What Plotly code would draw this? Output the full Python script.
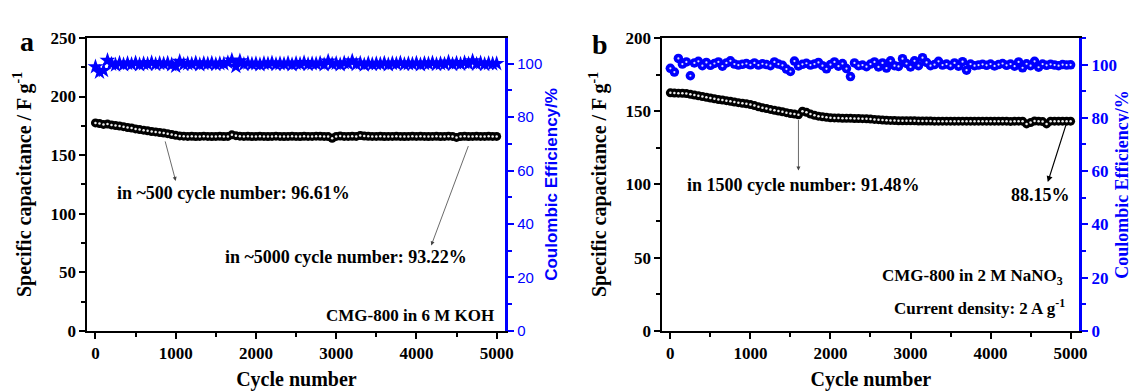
import plotly.graph_objects as go

# ---------------- data ----------------
cycles = list(range(0, 5001, 50))

cap_a = [177.5, 177.0, 176.2, 176.5, 175.8, 175.2, 174.9, 174.3, 173.6, 173.2,
         172.4, 171.8, 171.3, 170.8, 170.2, 169.8, 169.3, 168.9, 168.3, 167.6,
         166.9, 166.4, 166.2, 166.0, 166.1, 165.9, 166.0, 166.2, 166.0, 165.9,
         166.0, 166.1, 165.9, 166.0, 167.3, 166.6, 166.2, 166.0, 166.1, 165.9,
         166.0, 166.1, 166.0, 165.9, 166.0, 166.2, 166.0, 165.8, 166.0, 166.1,
         166.0, 165.9, 166.1, 166.0, 166.0, 166.2, 166.1, 166.0, 165.8, 164.4,
         166.0, 166.3, 166.0, 166.0, 166.1, 166.0, 166.8, 166.3, 166.1, 166.0,
         166.0, 166.1, 165.9, 166.0, 166.0, 166.1, 166.0, 165.9, 166.0, 166.1,
         166.0, 166.1, 166.0, 165.9, 166.0, 166.1, 165.9, 166.0, 166.2, 166.0,
         165.1, 165.9, 166.1, 165.9, 166.0, 166.1, 166.0, 166.0, 166.1, 166.0,
         166.0]

eff_a = [98.8, 96.8, 97.4, 101.2, 99.8, 99.5, 100.2, 99.6, 100.1, 99.7,
         100.3, 99.6, 100.0, 99.8, 100.4, 99.7, 100.1, 99.9, 100.2, 99.6,
         99.0, 100.8, 99.7, 100.0, 99.8, 100.3, 99.6, 100.1, 99.9, 100.2,
         99.7, 100.0, 99.9, 100.4, 101.3, 98.9, 101.0, 99.7, 100.2, 99.8,
         100.0, 99.6, 100.1, 99.9, 100.3, 99.7, 100.0, 99.8, 100.2, 99.6,
         100.1, 99.8, 100.4, 99.7, 100.0, 99.9, 100.2, 99.6, 100.9, 99.8,
         100.1, 99.6, 100.3, 99.9, 101.0, 99.7, 100.2, 99.5, 100.1, 99.7,
         100.0, 99.8, 100.2, 99.6, 100.1, 99.9, 100.3, 99.7, 100.0, 99.8,
         100.2, 99.6, 100.1, 99.9, 100.3, 99.7, 100.0, 99.8, 100.6, 99.7,
         100.2, 99.8, 100.4, 99.9, 101.0, 99.8, 100.3, 99.7, 100.1, 99.9,
         100.0]

cap_b = [162.5, 162.4, 162.3, 162.2, 162.0, 161.5, 161.0, 160.5, 160.0, 159.5,
         159.0, 158.5, 158.0, 157.6, 157.2, 156.8, 156.3, 155.8, 155.4, 155.0,
         154.5, 153.8, 153.0, 152.3, 151.8, 151.2, 150.6, 150.1, 149.6, 149.0,
         148.4, 148.0, 147.6, 150.0, 149.2, 148.0, 147.2, 146.6, 146.2, 145.8,
         145.5, 145.4, 145.3, 145.2, 145.2, 145.1, 145.0, 145.0, 144.9, 144.8,
         144.6, 144.4, 144.2, 144.0, 143.8, 143.7, 143.6, 143.5, 143.5, 143.4,
         143.4, 143.4, 143.3, 143.3, 143.3, 143.3, 143.2, 143.2, 143.2, 143.2,
         143.2, 143.2, 143.2, 143.2, 143.2, 143.2, 143.2, 143.2, 143.2, 143.2,
         143.2, 143.2, 143.2, 143.2, 143.2, 143.0, 143.2, 143.2, 143.2, 141.3,
         142.2, 143.3, 143.2, 142.9, 141.3, 143.2, 143.2, 143.2, 143.2, 143.2,
         143.2]

eff_b = [98.6, 97.2, 102.3, 100.2, 101.0, 95.8, 100.6, 101.2, 99.6, 100.8,
         99.7, 100.4, 101.0, 99.4, 100.6, 101.4, 100.2, 99.8, 100.1, 100.4,
         99.9, 100.6, 99.8, 100.3, 100.0, 99.6, 101.0, 100.2, 99.7, 98.3,
         97.4, 101.3, 99.5, 100.1, 100.5, 99.8, 100.2, 100.8, 99.6, 98.4,
         100.0, 101.0, 99.4, 100.4, 98.5, 95.5, 100.6, 99.6, 99.8, 99.2,
         100.2, 101.0, 99.1, 100.6, 98.7, 101.4, 99.6, 99.3, 102.2, 100.4,
         99.1, 101.4, 99.6, 102.6, 100.8, 99.6, 100.0, 101.2, 99.8, 100.2,
         99.6, 100.6, 99.4, 101.1, 97.9, 100.2, 99.6, 99.8, 100.1, 99.7,
         100.2, 99.5, 100.0, 100.4, 99.7, 100.2, 99.4, 101.0, 98.8, 100.3,
         99.6, 101.2, 99.0, 100.2, 99.7, 100.1, 99.8, 99.6, 100.0, 99.8,
         99.9]

x_ticks = [0, 1000, 2000, 3000, 4000, 5000]
cap_a_ticks = [0, 50, 100, 150, 200, 250]
cap_b_ticks = [0, 50, 100, 150, 200]
eff_ticks = [0, 20, 40, 60, 80, 100]

# ---------------- style ----------------
SERIF = "Liberation Serif, Times New Roman, serif"
SANS = "Liberation Sans, Arial, sans-serif"
BLUE = "#0000ff"
W, H = 1137, 391

fig = go.Figure()

# panel a
fig.add_trace(go.Scatter(x=cycles, y=cap_a, mode="markers", xaxis="x", yaxis="y",
                         marker=dict(symbol="circle", size=9, color="black"),
                         showlegend=False, hoverinfo="skip"))
fig.add_trace(go.Scatter(x=cycles, y=cap_a, mode="markers", xaxis="x", yaxis="y",
                         marker=dict(symbol="circle", size=2.5, color="#eeeeee"),
                         showlegend=False, hoverinfo="skip"))
fig.add_trace(go.Scatter(x=cycles, y=eff_a, mode="markers", xaxis="x", yaxis="y2",
                         marker=dict(symbol="star", size=12, color=BLUE,
                                     line=dict(width=0)),
                         showlegend=False, hoverinfo="skip"))

# panel b
fig.add_trace(go.Scatter(x=cycles, y=cap_b, mode="markers", xaxis="x2", yaxis="y3",
                         marker=dict(symbol="circle", size=9, color="black"),
                         showlegend=False, hoverinfo="skip"))
fig.add_trace(go.Scatter(x=cycles, y=cap_b, mode="markers", xaxis="x2", yaxis="y3",
                         marker=dict(symbol="circle", size=2.5, color="#eeeeee"),
                         showlegend=False, hoverinfo="skip"))
fig.add_trace(go.Scatter(x=cycles, y=eff_b, mode="markers", xaxis="x2", yaxis="y4",
                         marker=dict(symbol="circle", size=9.5, color=BLUE),
                         showlegend=False, hoverinfo="skip"))
fig.add_trace(go.Scatter(x=cycles, y=eff_b, mode="markers", xaxis="x2", yaxis="y4",
                         marker=dict(symbol="circle", size=2.2, color="#e0e0ff"),
                         showlegend=False, hoverinfo="skip"))

ydom = [1 - 330 / H, 1 - 22 / H]
xdom_a = [80 / W, 501 / W]
xdom_b = [659 / W, 1079 / W]

tickfont_serif = dict(family=SERIF, size=17, color="black")
title_serif = dict(family=SERIF, size=20, color="black")

def bold(vals):
    return ["<b>%d</b>" % v for v in vals]

def xaxis(dom, anchor):
    return dict(domain=dom, anchor=anchor, range=[-100, 5110], tickvals=x_ticks, ticktext=bold(x_ticks),
                ticks="outside", ticklen=6, tickwidth=2, tickcolor="black",
                minor=dict(dtick=500, tick0=0, ticks="outside", ticklen=4, tickwidth=2, tickcolor="black"),
                showline=True, linewidth=2, linecolor="black", mirror=True,
                showgrid=False, zeroline=False,
                tickfont=tickfont_serif,
                title=dict(text="<b>Cycle number</b>", font=title_serif, standoff=10))

fig.update_layout(
    width=W, height=H,
    margin=dict(l=0, r=0, t=0, b=0),
    paper_bgcolor="white", plot_bgcolor="white",
    xaxis=xaxis(xdom_a, "y"),
    xaxis2=xaxis(xdom_b, "y3"),
    yaxis=dict(domain=ydom, anchor="x", range=[0, 250], tickvals=cap_a_ticks, ticktext=bold(cap_a_ticks),
               ticks="outside", ticklen=6, tickwidth=2, tickcolor="black",
               minor=dict(dtick=25, tick0=0, ticks="outside", ticklen=4, tickwidth=2, tickcolor="black"),
               showline=True, linewidth=2, linecolor="black", showgrid=False, zeroline=False,
               tickfont=tickfont_serif,
               title=dict(text="<b>Specific capacitance / F g<sup>-1</sup></b>", font=title_serif, standoff=14)),
    yaxis2=dict(overlaying="y", side="right", anchor="x", range=[0, 109.6],
                tickvals=eff_ticks,
                ticks="outside", ticklen=6, tickwidth=2, tickcolor=BLUE,
                minor=dict(dtick=10, tick0=0, ticks="outside", ticklen=4, tickwidth=2, tickcolor=BLUE),
                showline=True, linewidth=2.5, linecolor=BLUE, showgrid=False, zeroline=False,
                tickfont=dict(family=SANS, size=15, color=BLUE),
                title=dict(text="<b>Coulombic Efficiency/%</b>", font=dict(family=SANS, size=17, color=BLUE), standoff=4)),
    yaxis3=dict(domain=ydom, anchor="x2", range=[0, 200], tickvals=cap_b_ticks, ticktext=bold(cap_b_ticks),
                ticks="outside", ticklen=6, tickwidth=2, tickcolor="black",
                minor=dict(dtick=25, tick0=0, ticks="outside", ticklen=4, tickwidth=2, tickcolor="black"),
                showline=True, linewidth=2, linecolor="black", showgrid=False, zeroline=False,
                tickfont=tickfont_serif,
                title=dict(text="<b>Specific capacitance / F g<sup>-1</sup></b>", font=title_serif, standoff=13)),
    yaxis4=dict(overlaying="y3", side="right", anchor="x2", range=[0, 110],
                tickvals=eff_ticks, ticktext=bold(eff_ticks),
                ticks="outside", ticklen=6, tickwidth=2, tickcolor=BLUE,
                minor=dict(dtick=10, tick0=0, ticks="outside", ticklen=4, tickwidth=2, tickcolor=BLUE),
                showline=True, linewidth=2.5, linecolor=BLUE, showgrid=False, zeroline=False,
                tickfont=dict(family=SERIF, size=17, color=BLUE),
                title=dict(text="<b>Coulombic Efficiency/%</b>", font=dict(family=SERIF, size=18, color=BLUE), standoff=0)),
)

txt = dict(family=SERIF, size=18, color="black")
txt_s = dict(family=SERIF, size=17, color="black")
ann = []
# panel labels
ann.append(dict(xref="paper", yref="paper", x=19 / W, y=1 - 26 / H, text="<b>a</b>", showarrow=False,
                font=dict(family=SERIF, size=28, color="black"), xanchor="center", yanchor="middle"))
ann.append(dict(xref="paper", yref="paper", x=596 / W, y=1 - 29 / H, text="<b>b</b>", showarrow=False,
                font=dict(family=SERIF, size=28, color="black"), xanchor="center", yanchor="middle"))
# panel a texts
ann.append(dict(xref="x", yref="y", x=1716, y=118, text="<b>in ~500 cycle number: 96.61%</b>",
                showarrow=False, font=txt))
ann.append(dict(xref="x", yref="y", x=3123, y=63.5, text="<b>in ~5000 cycle number: 93.22%</b>",
                showarrow=False, font=txt))
ann.append(dict(xref="x", yref="y", x=4990, y=13, text="<b>CMG-800 in 6 M KOH</b>",
                showarrow=False, font=txt_s, xanchor="right"))
# panel a arrows
ann.append(dict(xref="x", yref="y", axref="x", ayref="y", x=1000, y=128, ax=864, ay=163, text="",
                showarrow=True, arrowhead=2, arrowsize=1, arrowwidth=0.8, arrowcolor="#444"))
ann.append(dict(xref="x", yref="y", axref="x", ayref="y", x=4185, y=73, ax=4654, ay=159, text="",
                showarrow=True, arrowhead=2, arrowsize=1, arrowwidth=0.8, arrowcolor="#444"))
# panel b texts
ann.append(dict(xref="x2", yref="y3", x=1663, y=99.7, text="<b>in 1500 cycle number: 91.48%</b>",
                showarrow=False, font=txt))
ann.append(dict(xref="x2", yref="y3", x=4628, y=93, text="<b>88.15%</b>",
                showarrow=False, font=txt))
ann.append(dict(xref="x2", yref="y3", x=4925, y=36.5, text="<b>CMG-800 in 2 M NaNO<sub>3</sub></b>",
                showarrow=False, font=txt_s, xanchor="right"))
ann.append(dict(xref="x2", yref="y3", x=4950, y=16.3, text="<b>Current density: 2 A g<sup>-1</sup></b>",
                showarrow=False, font=txt_s, xanchor="right"))
# panel b arrows
ann.append(dict(xref="x2", yref="y3", axref="x2", ayref="y3", x=1600, y=109.5, ax=1600, ay=145, text="",
                showarrow=True, arrowhead=2, arrowsize=1, arrowwidth=0.8, arrowcolor="#444"))
ann.append(dict(xref="x2", yref="y3", axref="x2", ayref="y3", x=4715, y=101.6, ax=4950, ay=142, text="",
                showarrow=True, arrowhead=2, arrowsize=1, arrowwidth=1.2, arrowcolor="black"))

fig.update_layout(annotations=ann)
fig.write_html("out.html")
